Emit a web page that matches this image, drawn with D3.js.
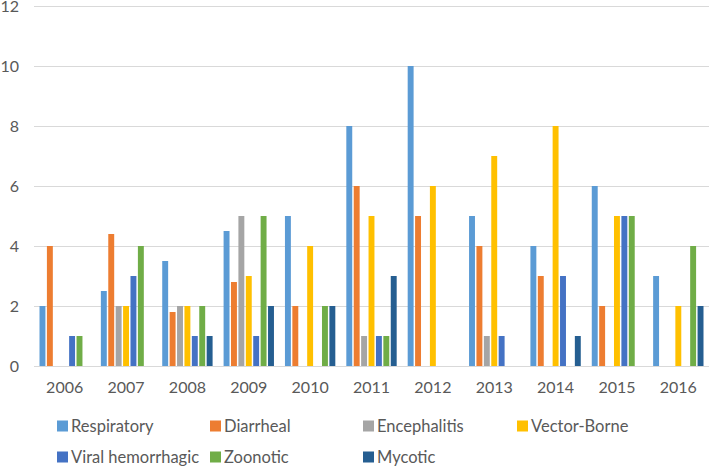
<!DOCTYPE html>
<html>
<head>
<meta charset="utf-8">
<script src="https://cdn.jsdelivr.net/npm/d3@7"></script>
<style>
  html, body { margin: 0; padding: 0; background: #fff; }
  svg { display: block; }
  text { font-family: Lato, "Open Sans", sans-serif; fill: #595959; }
</style>
</head>
<body>
<svg id="chart" width="709" height="466"></svg>
<script>
const years = ["2006","2007","2008","2009","2010","2011","2012","2013","2014","2015","2016"];
const seriesNames = ["Respiratory","Diarrheal","Encephalitis","Vector-Borne","Viral hemorrhagic","Zoonotic","Mycotic"];
const respiratory      = [2, 2.5, 3.5, 4.5, 5, 8, 10, 5, 4, 6, 3];
const diarrheal        = [4, 4.4, 1.8, 2.8, 2, 6, 5, 4, 3, 2, 0];
const encephalitis     = [0, 2, 2, 5, 0, 1, 0, 1, 0, 0, 0];
const vectorBorne      = [0, 2, 2, 3, 4, 5, 6, 7, 8, 5, 2];
const viralHemorrhagic = [1, 3, 1, 1, 0, 1, 0, 1, 3, 5, 0];
const zoonotic         = [1, 4, 2, 5, 2, 1, 0, 0, 0, 5, 4];
const mycotic          = [0, 0, 1, 2, 2, 3, 0, 0, 1, 0, 2];
const yTicks = [0, 2, 4, 6, 8, 10, 12];
const colors = ["#5B9BD5","#ED7D31","#A5A5A5","#FFC000","#4472C4","#70AD47","#255E91"];

const seriesValues = [respiratory, diarrheal, encephalitis, vectorBorne, viralHemorrhagic, zoonotic, mycotic];
const series = seriesNames.map((name, i) => ({ name, color: colors[i], values: seriesValues[i] }));

const svg = d3.select("#chart");
const plot = { left: 34, right: 709, top: 6, bottom: 366 };

const x0 = d3.scaleBand().domain(years).range([plot.left, plot.right]).padding(0);
const groupPad = 5.5;
const x1 = d3.scaleBand().domain(seriesNames)
  .range([groupPad, x0.bandwidth() - groupPad]).paddingInner(0.2).paddingOuter(0);
const y = d3.scaleLinear().domain([0, 12]).range([plot.bottom, plot.top]);

// gridlines
const yAxis = d3.axisLeft(y).tickValues(yTicks).tickSize(-(plot.right - plot.left)).tickPadding(15);
const gy = svg.append("g").attr("transform", `translate(${plot.left},0)`).call(yAxis);
gy.select(".domain").remove();
gy.selectAll(".tick line").attr("stroke", "#d9d9d9").attr("stroke-width", 1);
gy.selectAll(".tick text").attr("font-size", 16).attr("fill", "#595959");

// bars
const groups = svg.append("g").selectAll("g").data(years).join("g")
  .attr("transform", d => `translate(${x0(d)},0)`);
groups.selectAll("rect")
  .data((d, i) => series.map(s => ({ name: s.name, color: s.color, value: s.values[i] })))
  .join("rect")
  .attr("x", d => x1(d.name))
  .attr("width", x1.bandwidth())
  .attr("y", d => y(d.value))
  .attr("height", d => y(0) - y(d.value))
  .attr("fill", d => d.color);

// x axis labels
const xAxis = d3.axisBottom(x0).tickSize(0).tickPadding(16);
const gx = svg.append("g").attr("transform", `translate(0,${plot.bottom})`).call(xAxis);
gx.select(".domain").remove();
gx.selectAll(".tick text").attr("font-size", 16).attr("fill", "#595959");

// legend
const legendCols = [57, 210, 363, 517];
const legendRows = [426, 457];
const legend = svg.append("g").selectAll("g").data(series).join("g")
  .attr("transform", (d, i) => `translate(${legendCols[i % 4]},${legendRows[Math.floor(i / 4)]})`);
legend.append("rect").attr("x", 0).attr("y", -5.5).attr("width", 11).attr("height", 11).attr("fill", d => d.color);
legend.append("text").attr("x", 14).attr("y", 0).attr("dy", "0.35em")
  .attr("font-size", 16.5).text(d => d.name);
</script>
</body>
</html>
